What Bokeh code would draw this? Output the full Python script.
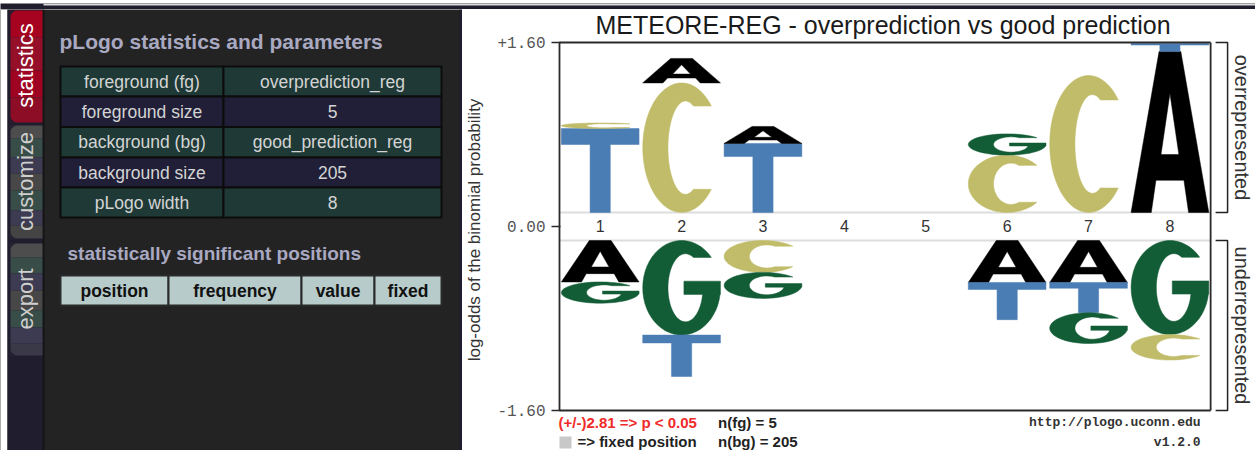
import math
import numpy as np
from bokeh.plotting import figure
from bokeh.models import Range1d, FixedTicker, ColumnDataSource
from bokeh.layouts import column, row
from bokeh.core.properties import value
from bokeh.embed import file_html
from bokeh.resources import INLINE

SANS = value("Liberation Sans")
MONO = value("Liberation Mono")

# ---------------- data ----------------
positions = [1, 2, 3, 4, 5, 6, 7, 8]

# over-represented residues (stacked upwards from the centre band)
over_pos = [1, 1, 2, 2, 3, 3, 6, 6, 7, 8, 8]
over_res = ["T", "C", "C", "A", "T", "A", "C", "G", "C", "A", "T"]
over_val = [0.79, 0.053, 1.22, 0.23, 0.65, 0.16, 0.54, 0.20, 1.29, 1.515, 0.075]

# under-represented residues (stacked downwards from the centre band)
under_pos = [1, 1, 2, 2, 3, 3, 6, 6, 7, 7, 7, 8, 8]
under_res = ["A", "G", "G", "T", "C", "G", "A", "T", "A", "T", "G", "G", "C"]
under_val = [0.39, 0.20, 0.89, 0.39, 0.30, 0.245, 0.395, 0.35, 0.395, 0.285, 0.29, 0.885, 0.24]

axis_limit = 1.60
threshold = 2.81
fg_name, bg_name = "overprediction_reg", "good_prediction_reg"
fg_size, bg_size = 5, 205

param_names = ["foreground (fg)", "foreground size", "background (bg)",
               "background size", "pLogo width"]
param_values = [fg_name, str(fg_size), bg_name, str(bg_size), str(len(positions))]
sig_headers = ["position", "frequency", "value", "fixed"]
tab_names = ["statistics", "customize", "export"]

title_text = "METEORE-REG - overprediction vs good prediction"

residue_colors = {"A": "#000000", "C": "#c0bc69", "G": "#125c36", "T": "#4a7db4"}

# ---------------- page geometry (pixels) ----------------
PAGE_W, PAGE_H = 1255, 450
STRIP_H = 9
LEFT_W = 462
RIGHT_W = PAGE_W - LEFT_W
BODY_H = PAGE_H - STRIP_H

BOX_L, BOX_R, BOX_T, BOX_B = 557, 1210, 42, 410
MID, BAND = 226, 14
FRAME_L = 555
PX_X = (BOX_R - BOX_L) / len(positions)
PX_Y = (MID - BAND - BOX_T) / axis_limit
GAP = BAND / PX_Y
YTICK = axis_limit + GAP

# text anchors are given at the glyph's cap middle: baseline minus this share of the font size
K_BASE = 0.36


def X(px):
    return 0.5 + (px - BOX_L) / PX_X


def Y(py):
    return (MID - py) / PX_Y


def mid(baseline_px, fs):
    return baseline_px - K_BASE * fs


# ---------------- letter outlines in a unit box ----------------
def arc(cx, cy, rx, ry, a0, a1, n=48):
    t = np.radians(np.linspace(a0, a1, n))
    return [float(v) for v in cx + rx * np.cos(t)], [float(v) for v in cy + ry * np.sin(t)]


def glyph_rings(ch):
    if ch == "T":
        return [([0, 1, 1, 0.63, 0.63, 0.37, 0.37, 0],
                 [1, 1, 0.81, 0.81, 0, 0, 0.81, 0.81])]
    if ch == "A":
        outer = ([0, 0.26, 0.32, 0.68, 0.74, 1, 0.64, 0.36],
                 [0, 0, 0.2, 0.2, 0, 0, 1, 1])
        hole = ([0.385, 0.615, 0.5], [0.36, 0.36, 0.74])
        return [outer, hole]
    if ch == "C":
        ou, ov = arc(0.5, 0.5, 0.5, 0.5, 40, 320)
        iu, iv = arc(0.55, 0.5, 0.225, 0.36, 297, 63)
        return [(ou + iu, ov + iv)]
    # G
    ou, ov = arc(0.5, 0.5, 0.5, 0.5, 40, 352)
    iu, iv = arc(0.55, 0.5, 0.225, 0.36, 340, 63)
    bu = [1.0, 1.0, 0.53, 0.53, 0.77]
    bv = [0.43, 0.57, 0.57, 0.43, 0.43]
    return [(ou + bu + iu, ov + bv + iv)]


LETTER_W = 0.955


def stack_letters(pos_list, res_list, val_list, upward):
    xs, ys, cols = [], [], []
    level = {}
    for p, r, h in zip(pos_list, res_list, val_list):
        base = level.get(p, GAP if upward else -GAP)
        y0, y1 = (base, base + h) if upward else (base - h, base)
        level[p] = y1 if upward else y0
        x0, x1 = p - LETTER_W / 2, p + LETTER_W / 2
        rx, ry = [], []
        for u, v in glyph_rings(r):
            rx.append([x0 + (x1 - x0) * a for a in u])
            ry.append([y0 + (y1 - y0) * b for b in v])
        xs.append([rx])
        ys.append([ry])
        cols.append(residue_colors[r])
    return xs, ys, cols


# ---------------- top strip ----------------
strip = figure(width=PAGE_W, height=STRIP_H, x_range=Range1d(0, PAGE_W), y_range=Range1d(STRIP_H, 0),
               output_backend="svg", toolbar_location=None, min_border=0,
               x_axis_location=None, y_axis_location=None)
strip.outline_line_color = None
strip.background_fill_color = "#1f1d2e"
strip.border_fill_color = "#1f1d2e"
strip.xgrid.visible = False
strip.ygrid.visible = False
strip.quad(left=[43], right=[PAGE_W], top=[0], bottom=[2], fill_color="#dcdcdc", line_color=None)

# ---------------- left side panel ----------------
left = figure(width=LEFT_W, height=BODY_H, x_range=Range1d(0, LEFT_W), y_range=Range1d(PAGE_H, STRIP_H),
              output_backend="svg", toolbar_location=None, min_border=0,
              x_axis_location=None, y_axis_location=None)
left.outline_line_color = None
left.background_fill_color = "#232323"
left.border_fill_color = "#232323"
left.xgrid.visible = False
left.ygrid.visible = False

left.quad(left=[0, 7, 42, 459], right=[7, 42, 44, 462], top=[STRIP_H] * 4, bottom=[PAGE_H] * 4,
          fill_color=["#ffffff", "#1f1d2e", "#151515", "#1f1d2e"], line_color=None)

tab_spans = [(10, 122), (125, 238), (243, 355)]
band_sets = [
    [(10, 37, "#a5031f"), (37, 70, "#950f29"), (70, 97, "#9f0322"), (97, 122, "#8e0d26")],
    [(125, 138, "#4d4d4d"), (138, 157, "#394d48"), (157, 173, "#3c3b51"), (173, 190, "#474747"),
     (190, 210, "#394d48"), (210, 225, "#3c3b51"), (225, 238, "#444444")],
    [(243, 257, "#4d4d4d"), (257, 273, "#394d48"), (273, 290, "#3c3b51"), (290, 310, "#474747"),
     (310, 327, "#394d48"), (327, 343, "#3c3b51"), (343, 355, "#3a3948")],
]
for (y0, y1), bands in zip(tab_spans, band_sets):
    left.quad(left=[10] * len(bands), right=[42] * len(bands),
              top=[b[0] for b in bands], bottom=[b[1] for b in bands],
              fill_color=[b[2] for b in bands], line_color=None)
    # mask the squared corners so the tab reads as rounded on its left side
    r = 7
    t = np.linspace(0, math.pi / 2, 10)
    cx_c = [10.0] + [float(10 + r - r * math.sin(a)) for a in t]
    cy_top = [float(y0)] + [float(y0 + r - r * math.cos(a)) for a in t]
    cy_bot = [float(y1)] + [float(y1 - r + r * math.cos(a)) for a in t]
    left.patches(xs=[cx_c, cx_c], ys=[cy_top, cy_bot], fill_color="#1f1d2e", line_color=None)

TAB_FS = 22
left.text(x=[33 - K_BASE * TAB_FS] * 3, y=[65, 181, 298.5], text=tab_names, angle=math.pi / 2,
          text_font=SANS, text_font_size="%dpx" % TAB_FS, text_align="center", text_baseline="alphabetic",
          text_color=["#ffffff", "#cfcfcf", "#cfcfcf"])

# statistics heading and parameter table
left.text(x=[59], y=[mid(49, 21)], text=["pLogo statistics and parameters"], text_font=SANS,
          text_font_size="21px", text_font_style="bold", text_color="#a9a9c2",
          text_align="left", text_baseline="alphabetic")

row_edges = [66, 96, 126.5, 157, 187, 217]
row_fill = ["#1f3a36", "#201f37", "#1f3a36", "#201f37", "#1f3a36"]
col_edges = [60, 223, 441]
for i in range(len(param_names)):
    left.quad(left=col_edges[:2], right=col_edges[1:], top=[row_edges[i]] * 2, bottom=[row_edges[i + 1]] * 2,
              fill_color=row_fill[i], line_color="#0c0c0c", line_width=2)
row_mid = [mid((a + b) / 2 + 6.5, 17.5) for a, b in zip(row_edges[:-1], row_edges[1:])]
left.text(x=[(col_edges[0] + col_edges[1]) / 2] * len(param_names), y=row_mid, text=param_names,
          text_font=SANS, text_font_size="17.5px", text_color="#d4d4d4",
          text_align="center", text_baseline="alphabetic")
left.text(x=[(col_edges[1] + col_edges[2]) / 2] * len(param_values), y=row_mid, text=param_values,
          text_font=SANS, text_font_size="17.5px", text_color="#d4d4d4",
          text_align="center", text_baseline="alphabetic")

left.text(x=[67], y=[mid(259.5, 19)], text=["statistically significant positions"], text_font=SANS,
          text_font_size="19px", text_font_style="bold", text_color="#a9a9c2",
          text_align="left", text_baseline="alphabetic")

head_edges = [60, 168, 301, 374, 441]
left.quad(left=head_edges[:-1], right=head_edges[1:], top=[275] * 4, bottom=[305] * 4,
          fill_color="#b8cbcb", line_color="#2a2a2a", line_width=2)
left.text(x=[(a + b) / 2 for a, b in zip(head_edges[:-1], head_edges[1:])], y=[mid(296.5, 17.5)] * 4,
          text=sig_headers, text_font=SANS, text_font_size="17.5px", text_font_style="bold",
          text_color="#111111", text_align="center", text_baseline="alphabetic")

# ---------------- logo ----------------
p = figure(width=RIGHT_W, height=BODY_H,
           x_range=Range1d(X(FRAME_L), X(PAGE_W)), y_range=Range1d(Y(PAGE_H), Y(STRIP_H)),
           output_backend="svg", toolbar_location=None,
           min_border_left=FRAME_L - LEFT_W, min_border_right=0, min_border_top=0, min_border_bottom=0,
           x_axis_location=None)
p.outline_line_color = None
p.background_fill_color = "#ffffff"
p.border_fill_color = "#ffffff"
p.xgrid.visible = False
p.ygrid.visible = False

yax = p.yaxis[0]
yax.ticker = FixedTicker(ticks=[-YTICK, 0, YTICK])
yax.major_label_overrides = {YTICK: "+%.2f" % axis_limit, 0: "0.00", -YTICK: "-%.2f" % axis_limit}
yax.minor_tick_line_color = None
yax.axis_line_color = None
yax.major_tick_out = 6
yax.major_tick_in = 3
yax.major_tick_line_color = "#2a2a2a"
yax.major_tick_line_width = 1.5
yax.major_label_standoff = 6
yax.major_label_text_font = "Liberation Mono"
yax.major_label_text_font_size = "16px"
yax.major_label_text_color = "#555555"
yax.axis_label = "log-odds of the binomial probability"
yax.axis_label_text_font = "Liberation Sans"
yax.axis_label_text_font_size = "17px"
yax.axis_label_text_font_style = "normal"
yax.axis_label_text_color = "#333333"
yax.axis_label_standoff = 10

# centre band guides
p.segment(x0=[0.5, 0.5], x1=[8.5, 8.5], y0=[GAP, -GAP], y1=[GAP, -GAP],
          line_color="#dddddd", line_width=2)

# letters
for pos_l, res_l, val_l, up in ((over_pos, over_res, over_val, True),
                                (under_pos, under_res, under_val, False)):
    xs, ys, cols = stack_letters(pos_l, res_l, val_l, up)
    src = ColumnDataSource(dict(xs=xs, ys=ys, color=cols))
    p.multi_polygons(xs="xs", ys="ys", fill_color="color", line_color="color",
                     line_width=0.5, source=src)

# plot box
p.segment(x0=[0.5, 0.5, 0.5, 8.5], x1=[8.5, 8.5, 0.5, 8.5],
          y0=[YTICK, -YTICK, YTICK, YTICK], y1=[YTICK, -YTICK, -YTICK, -YTICK],
          line_color="#2a2a2a", line_width=1.8)

# position numbers
p.text(x=positions, y=[Y(mid(231.5, 16))] * len(positions), text=[str(i) for i in positions],
       text_font=SANS, text_font_size="16px", text_color="#333333",
       text_align="center", text_baseline="alphabetic")

# title
p.text(x=[X(881.5)], y=[Y(mid(33, 25))], text=[title_text], text_font=SANS, text_font_size="25px",
       text_color="#1a1a1a", text_align="center", text_baseline="alphabetic")

# brackets
p.multi_line(xs=[[X(1215), X(1227), X(1227), X(1215)]] * 2,
             ys=[[YTICK, YTICK, GAP, GAP], [-GAP, -GAP, -YTICK, -YTICK]],
             line_color="#222222", line_width=1.5)
SIDE_FS = 20
p.text(x=[X(1234 + K_BASE * SIDE_FS)] * 2, y=[(YTICK + GAP) / 2, -(YTICK + GAP) / 2],
       text=["overrepresented", "underrepresented"], angle=-math.pi / 2,
       text_font=SANS, text_font_size="%dpx" % SIDE_FS, text_color="#333333",
       text_align="center", text_baseline="alphabetic")

# footer
p.text(x=[X(556)], y=[Y(mid(427, 15))], text=["(+/-)%.2f => p < 0.05" % threshold], text_font=SANS,
       text_font_size="15px", text_font_style="bold", text_color="#f02a2a",
       text_align="left", text_baseline="alphabetic")
p.quad(left=[X(557)], right=[X(569)], top=[Y(436)], bottom=[Y(448)], fill_color="#c8c8c8", line_color=None)
p.text(x=[X(575)], y=[Y(mid(446, 15))], text=["=> fixed position"], text_font=SANS,
       text_font_size="15px", text_font_style="bold", text_color="#222222",
       text_align="left", text_baseline="alphabetic")
p.text(x=[X(716)] * 2, y=[Y(mid(427, 15)), Y(mid(446, 15))],
       text=["n(fg) = %d" % fg_size, "n(bg) = %d" % bg_size],
       text_font=SANS, text_font_size="15px", text_font_style="bold", text_color="#222222",
       text_align="left", text_baseline="alphabetic")
p.text(x=[X(1200)] * 2, y=[Y(mid(426.5, 13)), Y(mid(446.5, 13))], text=["http://plogo.uconn.edu", "v1.2.0"],
       text_font=MONO, text_font_size="13px", text_font_style="bold", text_color="#333333",
       text_align="right", text_baseline="alphabetic")

layout = column(strip, row(left, p))
open("out.html", "w").write(file_html(layout, INLINE))
